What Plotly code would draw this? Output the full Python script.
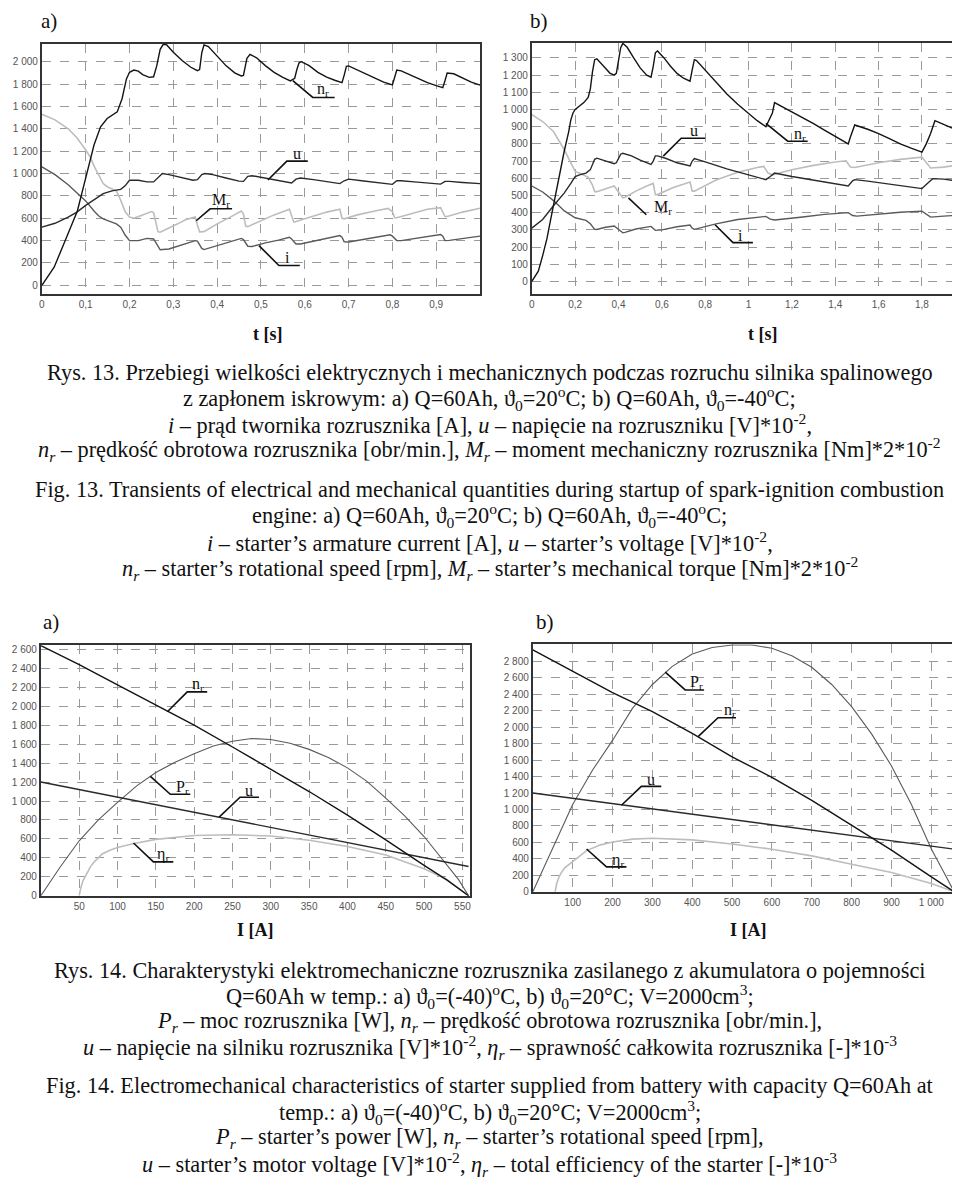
import plotly.graph_objects as go

# ---------------- DATA ----------------
# Fig 13a  (t [s])
t_a_n = [0, 0.028, 0.05, 0.081, 0.102, 0.119, 0.134, 0.149, 0.172, 0.183, 0.193, 0.20, 0.21, 0.22, 0.23, 0.245,
         0.255, 0.262, 0.27, 0.277, 0.285, 0.30, 0.32, 0.34, 0.355, 0.36, 0.365, 0.37, 0.38, 0.40, 0.42, 0.44,
         0.455, 0.46, 0.468, 0.475, 0.49, 0.51, 0.53, 0.55, 0.567, 0.572, 0.577, 0.582, 0.587, 0.592, 0.61, 0.63,
         0.65, 0.67, 0.685, 0.69, 0.695, 0.70, 0.72, 0.74, 0.76, 0.78, 0.80, 0.805, 0.81, 0.82, 0.84, 0.86, 0.88,
         0.90, 0.915, 0.92, 0.925, 0.94, 0.96, 0.98, 1.0]
n_a = [0, 162, 370, 665, 990, 1255, 1418, 1492, 1551, 1669, 1846, 1905, 1925, 1915, 1885, 1860,
       1865, 1960, 2110, 2155, 2150, 2085, 2010, 1950, 1920, 1930, 2080, 2150, 2135, 2045, 1965, 1900,
       1872, 1878, 2030, 2065, 2035, 1965, 1905, 1860, 1828, 1840, 1852, 1930, 1990, 2000, 1965, 1905,
       1862, 1832, 1812, 1880, 1958, 1962, 1925, 1885, 1848, 1818, 1793, 1850, 1925, 1918, 1882, 1843, 1812,
       1786, 1768, 1830, 1898, 1892, 1852, 1818, 1790]
t_a_u = [0, 0.03, 0.06, 0.08, 0.10, 0.12, 0.14, 0.16, 0.18, 0.19, 0.20, 0.22, 0.24, 0.255, 0.265, 0.275, 0.29,
         0.32, 0.345, 0.355, 0.365, 0.372, 0.39, 0.42, 0.45, 0.46, 0.47, 0.48, 0.50, 0.53, 0.56, 0.57, 0.58,
         0.59, 0.62, 0.65, 0.68, 0.69, 0.70, 0.73, 0.76, 0.79, 0.80, 0.81, 0.82, 0.85, 0.88, 0.91, 0.92, 0.93,
         0.96, 1.0]
u_a = [520, 555, 610, 655, 715, 770, 820, 845, 858, 890, 940, 940, 925, 925, 960, 1000, 990,
       960, 940, 945, 990, 1000, 990, 960, 932, 930, 975, 980, 965, 940, 920, 915, 950,
       960, 945, 930, 910, 935, 950, 935, 920, 905, 903, 935, 935, 925, 915, 905, 930, 930,
       920, 910]
t_a_m = [0, 0.03, 0.06, 0.08, 0.10, 0.11, 0.12, 0.13, 0.14, 0.15, 0.16, 0.17, 0.18, 0.19, 0.20, 0.21, 0.23,
         0.25, 0.255, 0.26, 0.265, 0.27, 0.29, 0.31, 0.33, 0.35, 0.355, 0.36, 0.37, 0.40, 0.43, 0.455, 0.46,
         0.465, 0.47, 0.50, 0.53, 0.565, 0.57, 0.575, 0.58, 0.62, 0.65, 0.68, 0.685, 0.69, 0.72, 0.76, 0.79,
         0.80, 0.805, 0.81, 0.85, 0.88, 0.91, 0.915, 0.92, 0.925, 0.96, 1.0]
m_a = [1530, 1480, 1400, 1320, 1210, 1150, 1060, 990, 910, 880, 860, 845, 760, 660, 610, 600, 630,
       660, 650, 560, 480, 475, 510, 550, 590, 612, 540, 478, 480, 550, 610, 665, 640,
       530, 525, 580, 630, 680, 620, 565, 570, 620, 655, 680, 600, 595, 630, 665, 688,
       660, 605, 605, 650, 680, 695, 650, 615, 615, 655, 690]
t_a_i = [0, 0.03, 0.06, 0.08, 0.10, 0.12, 0.13, 0.14, 0.15, 0.17, 0.18, 0.19, 0.20, 0.22, 0.24, 0.255,
         0.265, 0.27, 0.29, 0.32, 0.35, 0.355, 0.365, 0.37, 0.40, 0.43, 0.455, 0.46, 0.47, 0.48, 0.51, 0.54,
         0.565, 0.57, 0.58, 0.59, 0.62, 0.65, 0.68, 0.685, 0.69, 0.70, 0.73, 0.76, 0.795, 0.80, 0.81, 0.82,
         0.85, 0.88, 0.91, 0.915, 0.92, 0.93, 0.96, 1.0]
i_a = [1060, 990, 900, 830, 755, 660, 620, 595, 578, 550, 520, 450, 400, 400, 420, 415,
       350, 318, 325, 360, 400, 395, 330, 320, 355, 390, 420, 410, 350, 348, 380, 405,
       430, 415, 370, 370, 395, 420, 445, 430, 390, 388, 410, 430, 452, 440, 400, 400,
       420, 440, 455, 440, 400, 402, 420, 440]

# Fig 13b
t_b_n = [0, 0.03, 0.05, 0.07, 0.09, 0.11, 0.13, 0.15, 0.17, 0.18, 0.19, 0.20, 0.22, 0.24, 0.26, 0.27, 0.28,
         0.29, 0.30, 0.32, 0.34, 0.36, 0.38, 0.39, 0.40, 0.41, 0.42, 0.44, 0.47, 0.50, 0.53, 0.55, 0.56, 0.57,
         0.58, 0.61, 0.64, 0.67, 0.70, 0.73, 0.74, 0.75, 0.76, 0.80, 0.85, 0.90, 0.95, 1.00, 1.04, 1.08, 1.09,
         1.10, 1.11, 1.12, 1.15, 1.20, 1.25, 1.30, 1.35, 1.40, 1.46, 1.47, 1.48, 1.49, 1.55, 1.60, 1.65, 1.70,
         1.75, 1.80, 1.82, 1.84, 1.86, 1.90, 1.95, 1.985]
n_b = [0, 60, 150, 250, 380, 510, 640, 760, 870, 940, 980, 1000, 1020, 1040, 1070, 1120, 1220,
       1290, 1295, 1270, 1240, 1212, 1200, 1210, 1290, 1360, 1385, 1362, 1300, 1242, 1200, 1188, 1250, 1330,
       1340, 1300, 1252, 1210, 1182, 1165, 1230, 1290, 1285, 1228, 1158, 1090, 1030, 975, 935, 900, 925,
       950, 980, 1040, 1020, 988, 953, 918, 880, 845, 800, 840, 880, 910, 885, 860, 830, 800,
       775, 752, 800, 860, 935, 915, 890, 868]
t_b_u = [0, 0.05, 0.10, 0.15, 0.18, 0.20, 0.22, 0.25, 0.27, 0.29, 0.30, 0.34, 0.38, 0.39, 0.41, 0.42, 0.46,
         0.50, 0.55, 0.56, 0.57, 0.58, 0.62, 0.67, 0.73, 0.74, 0.75, 0.80, 0.90, 1.00, 1.08, 1.10, 1.12, 1.20,
         1.30, 1.40, 1.46, 1.48, 1.49, 1.55, 1.65, 1.75, 1.80, 1.83, 1.85, 1.90, 1.985]
u_b = [310, 360, 440, 515, 570, 610, 620, 630, 650, 710, 717, 700, 685, 690, 740, 745, 730,
       705, 680, 700, 730, 730, 715, 690, 672, 700, 714, 695, 655, 620, 592, 610, 630, 610,
       590, 568, 555, 585, 592, 583, 565, 548, 540, 575, 598, 595, 580]
t_b_m = [0, 0.05, 0.10, 0.15, 0.18, 0.20, 0.23, 0.26, 0.28, 0.29, 0.30, 0.34, 0.38, 0.40, 0.42, 0.43, 0.48,
         0.53, 0.56, 0.57, 0.58, 0.65, 0.73, 0.74, 0.75, 0.85, 0.95, 1.05, 1.07, 1.09, 1.11, 1.20, 1.30, 1.40,
         1.45, 1.47, 1.49, 1.60, 1.70, 1.80, 1.82, 1.84, 1.90, 1.985]
m_b = [970, 930, 872, 766, 690, 640, 625, 605, 560, 522, 522, 540, 555, 520, 486, 490, 525,
       555, 570, 505, 505, 545, 578, 525, 525, 590, 635, 665, 669, 630, 620, 650, 675, 695,
       702, 665, 663, 690, 710, 723, 690, 660, 665, 680]
t_b_i = [0, 0.05, 0.10, 0.15, 0.20, 0.25, 0.27, 0.29, 0.30, 0.34, 0.38, 0.40, 0.42, 0.43, 0.48, 0.55, 0.56,
         0.57, 0.60, 0.67, 0.73, 0.74, 0.75, 0.85, 0.95, 1.05, 1.08, 1.10, 1.12, 1.25, 1.35, 1.46, 1.48, 1.50,
         1.60, 1.70, 1.80, 1.82, 1.84, 1.90, 1.985]
i_b = [555, 520, 470, 410, 370, 355, 335, 303, 302, 315, 322, 300, 283, 285, 305, 320, 310,
       297, 300, 318, 328, 310, 303, 335, 360, 375, 378, 362, 357, 375, 390, 400, 383, 380,
       392, 402, 409, 390, 374, 380, 386]

# Fig 14a  (I [A])
I_c_n = [0, 50, 100, 150, 200, 250, 300, 350, 400, 450, 500, 530, 558]
n_c = [2640, 2440, 2225, 2010, 1800, 1570, 1335, 1100, 850, 590, 320, 165, 0]
I_c_p = [0, 25, 50, 75, 100, 125, 150, 175, 200, 225, 250, 275, 300, 325, 350, 375, 400, 425, 450, 475,
         500, 525, 545, 558]
p_c = [0, 300, 580, 800, 985, 1160, 1300, 1410, 1500, 1580, 1630, 1660, 1650, 1610, 1545, 1460, 1350,
       1210, 1030, 840, 625, 370, 170, 0]
I_c_u = [0, 558]
u_c = [1200, 308]
I_c_e = [50, 52, 55, 60, 65, 70, 80, 90, 100, 120, 150, 200, 250, 300, 350, 400, 450, 500, 530, 558]
e_c = [0, 80, 160, 240, 310, 360, 440, 480, 510, 548, 595, 635, 643, 630, 585, 520, 430, 285, 170, 0]

# Fig 14b
I_d_n = [0, 100, 200, 300, 400, 500, 600, 700, 800, 900, 1000, 1057]
n_d = [2940, 2680, 2420, 2190, 1925, 1640, 1390, 1110, 810, 505, 180, 0]
I_d_p = [0, 50, 100, 150, 200, 250, 300, 350, 400, 450, 500, 550, 600, 650, 700, 750, 800, 850, 900,
         950, 1000, 1030, 1057]
p_d = [0, 540, 1060, 1480, 1840, 2230, 2520, 2740, 2890, 2970, 3000, 3000, 2960, 2870, 2730, 2520,
       2250, 1920, 1530, 1060, 520, 250, 0]
I_d_u = [0, 1057]
u_d = [1200, 518]
I_d_e = [56, 60, 65, 70, 80, 100, 135, 170, 200, 250, 300, 400, 500, 600, 700, 800, 900, 1000, 1057]
e_d = [0, 100, 170, 220, 290, 370, 500, 570, 605, 640, 650, 630, 580, 517, 436, 335, 234, 100, 0]

# tick values
xt_a = [0, 0.1, 0.2, 0.3, 0.4, 0.5, 0.6, 0.7, 0.8, 0.9]
yt_a = list(range(0, 2001, 200))
xt_b = [0, 0.2, 0.4, 0.6, 0.8, 1.0, 1.2, 1.4, 1.6, 1.8]
yt_b = list(range(0, 1301, 100))
xt_c = list(range(50, 551, 50))
yt_c = list(range(0, 2601, 200))
xt_d = list(range(100, 1001, 100))
yt_d = list(range(0, 2801, 200))

# ---------------- FIGURE ----------------
W, H = 960, 1179


def PX(x):
    return x / W


def PY(y):
    return 1 - y / H


fig = go.Figure()

BLACK = '#141414'
DARK = '#2a2a2a'
MID = '#5a5a5a'
LIGHT = '#bdbdbd'


def add(x, y, ax, color, w=1.4):
    fig.add_trace(go.Scatter(x=x, y=y, mode='lines', xaxis='x' + ax, yaxis='y' + ax,
                             line=dict(color=color, width=w), showlegend=False, hoverinfo='skip'))


add(t_a_m, m_a, '', LIGHT, 1.6)
add(t_a_i, i_a, '', MID)
add(t_a_u, u_a, '', DARK)
add(t_a_n, n_a, '', BLACK)

add(t_b_m, m_b, '2', LIGHT, 1.6)
add(t_b_i, i_b, '2', MID)
add(t_b_u, u_b, '2', DARK)
add(t_b_n, n_b, '2', BLACK)

add(I_c_e, e_c, '3', LIGHT, 1.6)
add(I_c_p, p_c, '3', MID, 1.1)
add(I_c_u, u_c, '3', DARK)
add(I_c_n, n_c, '3', BLACK)

add(I_d_e, e_d, '4', LIGHT, 1.6)
add(I_d_p, p_d, '4', MID, 1.1)
add(I_d_u, u_d, '4', DARK)
add(I_d_n, n_d, '4', BLACK)

tickfont = dict(family='Liberation Sans', size=10, color='#555')


def axis_common():
    return dict(showline=True, linecolor='#333', linewidth=2, mirror=True,
                showgrid=True, gridcolor='#9a9a9a', gridwidth=1, griddash='dash',
                zeroline=False, ticks='', tickfont=tickfont, separatethousands=True)


def dom(x0, x1, y0, y1):
    return [PX(x0), PX(x1)], [PY(y1), PY(y0)]


axes = {
    '': (dom(31, 471, 35, 287), [0, 1.0], [-80, 2160], xt_a, yt_a),
    '2': (dom(523, 955, 34, 287), [0, 1.985], [-75, 1388], xt_b, yt_b),
    '3': (dom(30, 461, 640, 892), [0, 560], [0, 2645], xt_c, yt_c),
    '4': (dom(524, 949, 639, 888), [0, 1062], [0, 3010], xt_d, yt_d),
}
lay = {}
for k, ((dx, dy), xr, yr, xt, yt) in axes.items():
    xa = axis_common()
    xa.update(domain=dx, range=xr, tickvals=xt, anchor='y' + k)
    ya = axis_common()
    ya.update(domain=dy, range=yr, tickvals=yt, anchor='x' + k)
    lay['xaxis' + k] = xa
    lay['yaxis' + k] = ya

fig.update_layout(width=W, height=H, margin=dict(l=0, r=0, t=0, b=0),
                  plot_bgcolor='white', paper_bgcolor='white', separators=', ', **lay)

# leader lines and curve labels (pixel positions on the page)
leaders = [
    ([(283, 72), (303, 89), (325, 89)], 'n<sub>r</sub>', (313, 81)),
    ([(258, 172), (277, 153), (298, 153)], 'u', (287, 145)),
    ([(186, 213), (200, 201), (222, 201)], 'M<sub>r</sub>', (211, 193)),
    ([(249, 238), (269, 258), (290, 258)], 'i', (278, 250)),
    ([(758, 115), (780, 133), (800, 133)], 'n<sub>r</sub>', (792, 126)),
    ([(655, 148), (673, 130), (697, 130)], 'u', (686, 122)),
    ([(620, 190), (638, 207)], 'M<sub>r</sub>', (655, 200)),
    ([(707, 217), (725, 235), (745, 235)], 'i', (733, 228)),
    ([(157, 707), (177, 687), (197, 687)], 'n<sub>r</sub>', (188, 680)),
    ([(140, 772), (160, 790), (180, 790)], 'P<sub>r</sub>', (172, 783)),
    ([(209, 813), (230, 793), (249, 793)], 'u', (239, 786)),
    ([(123, 839), (143, 858), (163, 858)], 'η<sub>r</sub>', (153, 851)),
    ([(657, 667), (677, 685), (696, 685)], 'P<sub>r</sub>', (688, 678)),
    ([(690, 732), (710, 713), (728, 713)], 'n<sub>r</sub>', (722, 706)),
    ([(613, 801), (633, 782), (653, 782)], 'u', (643, 775)),
    ([(578, 845), (598, 863), (618, 863)], 'η<sub>r</sub>', (610, 857)),
]
annos = []
shapes = []
for pts, txt, (tx, ty) in leaders:
    path = 'M ' + ' L '.join(f'{PX(x):.5f},{PY(y):.5f}' for x, y in pts)
    shapes.append(dict(type='path', path=path, xref='paper', yref='paper',
                       line=dict(color='#111', width=1.6)))
    annos.append(dict(x=PX(tx), y=PY(ty), xref='paper', yref='paper', text=txt, showarrow=False,
                      font=dict(family='Liberation Serif', size=16, color='#111'),
                      xanchor='center', yanchor='middle'))

serif = 'Liberation Serif'
# panel letters and axis titles
for txt, (x, y), sz, bold in [
    ('a)', (38, 12), 21, False), ('b)', (530, 12), 21, False),
    ('a)', (40, 617), 21, False), ('b)', (536, 617), 21, False),
    ('t [s]', (258, 327), 18, True), ('t [s]', (755, 327), 18, True),
    ('I [A]', (246, 927), 18, True), ('I [A]', (741, 927), 18, True),
]:
    annos.append(dict(x=PX(x), y=PY(y), xref='paper', yref='paper',
                      text=f'<b>{txt}</b>' if bold else txt, showarrow=False,
                      font=dict(family=serif, size=sz, color='#111'), xanchor='center', yanchor='middle'))

captions = [
    (366, 'Rys. 13. Przebiegi wielkości elektrycznych i mechanicznych podczas rozruchu silnika spalinowego'),
    (392, 'z zapłonem iskrowym: a) Q=60Ah, ϑ<sub>0</sub>=20<sup>o</sup>C; b) Q=60Ah, ϑ<sub>0</sub>=-40<sup>o</sup>C;'),
    (417, '<i>i</i> – prąd twornika rozrusznika [A], <i>u</i> – napięcie na rozruszniku [V]*10<sup>-2</sup>,'),
    (443, '<i>n<sub>r</sub></i> – prędkość obrotowa rozrusznika [obr/min.], <i>M<sub>r</sub></i> – moment mechaniczny rozrusznika [Nm]*2*10<sup>-2</sup>'),
    (483, 'Fig. 13. Transients of electrical and mechanical quantities during startup of spark-ignition combustion'),
    (510, 'engine: a) Q=60Ah, ϑ<sub>0</sub>=20<sup>o</sup>C; b) Q=60Ah, ϑ<sub>0</sub>=-40<sup>o</sup>C;'),
    (536, '<i>i</i> – starter’s armature current [A], <i>u</i> – starter’s voltage [V]*10<sup>-2</sup>,'),
    (563, '<i>n<sub>r</sub></i> – starter’s rotational speed [rpm], <i>M<sub>r</sub></i> – starter’s mechanical torque [Nm]*2*10<sup>-2</sup>'),
    (967, 'Rys. 14. Charakterystyki elektromechaniczne rozrusznika zasilanego z akumulatora o pojemności'),
    (993, 'Q=60Ah w temp.: a) ϑ<sub>0</sub>=(-40)<sup>o</sup>C, b) ϑ<sub>0</sub>=20°C; V=2000cm<sup>3</sup>;'),
    (1019, '<i>P<sub>r</sub></i> – moc rozrusznika [W], <i>n<sub>r</sub></i> – prędkość obrotowa rozrusznika [obr/min.],'),
    (1045, '<i>u</i> – napięcie na silniku rozrusznika [V]*10<sup>-2</sup>, <i>η<sub>r</sub></i> – sprawność całkowita rozrusznika [-]*10<sup>-3</sup>'),
    (1083, 'Fig. 14. Electromechanical characteristics of starter supplied from battery with capacity Q=60Ah at'),
    (1110, 'temp.: a) ϑ<sub>0</sub>=(-40)<sup>o</sup>C, b) ϑ<sub>0</sub>=20°C; V=2000cm<sup>3</sup>;'),
    (1136, '<i>P<sub>r</sub></i> – starter’s power [W], <i>n<sub>r</sub></i> – starter’s rotational speed [rpm],'),
    (1162, '<i>u</i> – starter’s motor voltage [V]*10<sup>-2</sup>, <i>η<sub>r</sub></i> – total efficiency of the starter [-]*10<sup>-3</sup>'),
]
for y, txt in captions:
    annos.append(dict(x=PX(481), y=PY(y), xref='paper', yref='paper', text=txt, showarrow=False,
                      font=dict(family=serif, size=22.3, color='#111'), xanchor='center', yanchor='middle'))

fig.update_layout(annotations=annos, shapes=shapes)
fig.write_html('out.html')
